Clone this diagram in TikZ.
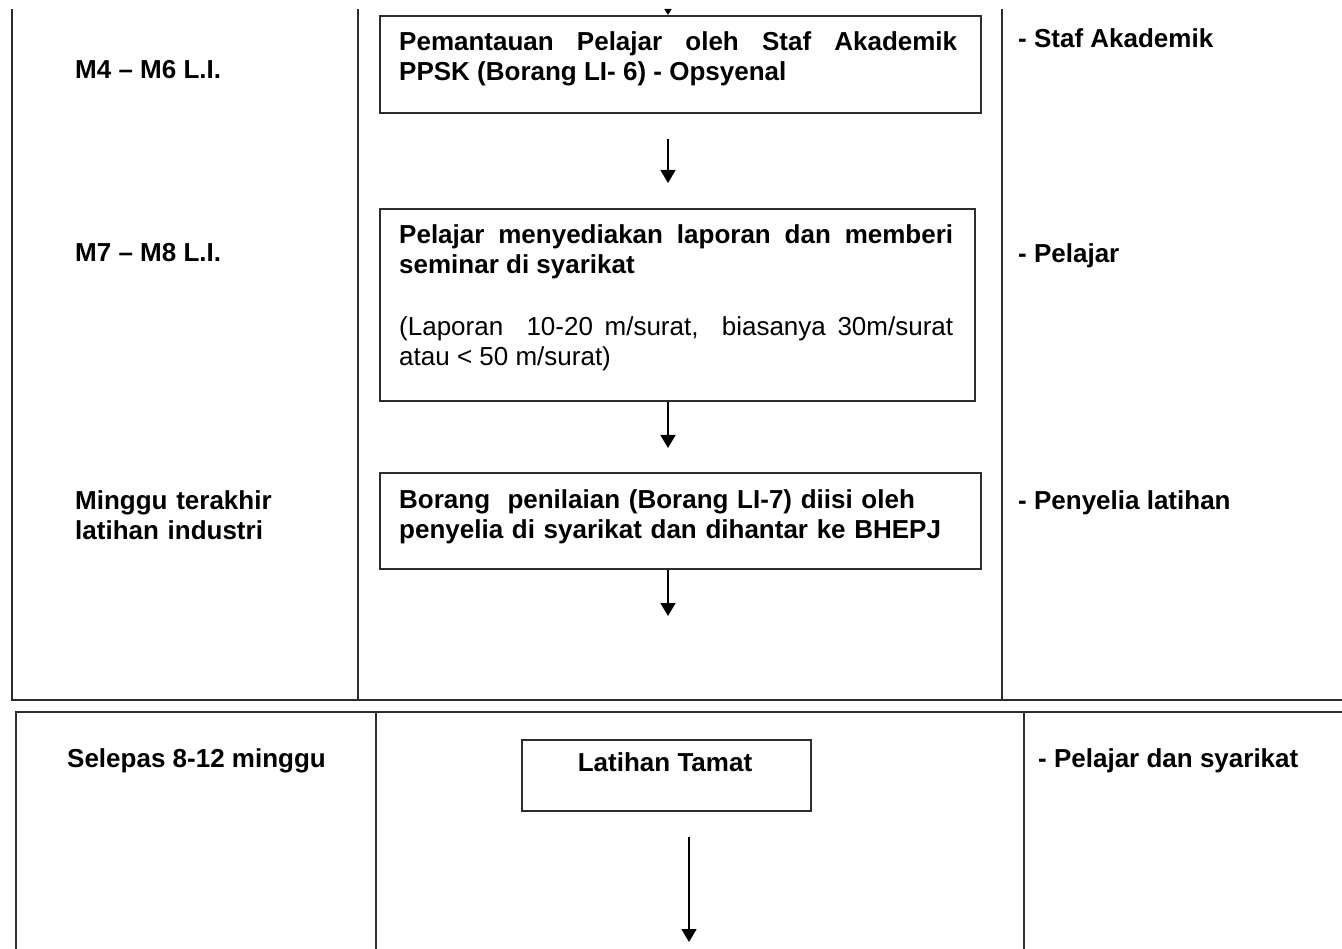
\documentclass[tikz,border=0pt]{standalone}
\usepackage{fontspec}
\setmainfont{Liberation Sans}
\usetikzlibrary{arrows.meta}
\definecolor{rulegray}{RGB}{45,45,45}

\begin{document}
\begin{tikzpicture}[x=1pt, y=-1pt,
    box/.style={draw=rulegray, line width=1.6pt, anchor=north west, inner sep=0pt},
    txt/.style={anchor=base west, inner sep=0pt, font=\fontsize{26}{30}\selectfont\bfseries},
    para/.style={txt, text width=#1, align=justify},
    lines/.style={txt, text width=#1, align=left},
    arr/.style={-{Triangle[width=15pt,length=13pt]}, line width=1.6pt},
    tablerule/.style={draw=rulegray, line width=1.8pt}]
\clip (0,0) rectangle (1342,949);
\fill[white] (0,0) rectangle (1342,949);

% Upper table
\draw[tablerule] (12,9) -- (12,700) -- (1342,700);
\draw[tablerule] (358,9) -- (358,700);
\draw[tablerule] (1002,9) -- (1002,700);

% Lower table
\draw[tablerule] (16,949) -- (16,712) -- (1342,712);
\draw[tablerule] (376,712) -- (376,949);
\draw[tablerule] (1024,712) -- (1024,949);

% Time column
\node[txt] (w1) at (75,79) {M4 -- M6 L.I.};
\node[txt] (w2) at (75,262) {M7 -- M8 L.I.};
\node[lines=260pt] (w3) at (75,509) {Minggu terakhir\\latihan industri};
\node[txt] (w4) at (67,767) {Selepas 8-12 minggu};

% Flow boxes
\node[box, minimum width=601pt, minimum height=97pt] (b1) at (379,15) {};
\node[box, minimum width=595pt, minimum height=192pt] (b2) at (379,208) {};
\node[box, minimum width=601pt, minimum height=96pt] (b3) at (379,472) {};
\node[box, minimum width=289pt, minimum height=71pt] (b4) at (521,739) {};

\node[para=558pt] (t1) at (399,51) {Pemantauan Pelajar oleh Staf Akademik\linebreak PPSK (Borang LI- 6) - Opsyenal};
\node[para=554pt] (t2) at (399,244) {Pelajar menyediakan laporan dan memberi\linebreak seminar di syarikat\par\vspace{32pt}
    \mdseries (Laporan\ \ 10-20 m/surat,\ \ biasanya 30m/surat\linebreak atau < 50 m/surat)};
\node[lines=570pt] (t3) at (399,508) {Borang\ \ penilaian (Borang LI-7) diisi oleh\\penyelia di syarikat dan dihantar ke BHEPJ};
\node[txt, anchor=base] (t4) at (665,771) {Latihan Tamat};

% Person in charge column
\node[txt] (p1) at (1018,48) {- Staf Akademik};
\node[txt] (p2) at (1018,263) {- Pelajar};
\node[txt] (p3) at (1018,509) {- Penyelia latihan};
\node[txt] (p4) at (1038,767) {- Pelajar dan syarikat};

% Arrows
\coordinate (ax) at (668,0);
\coordinate (bx) at (689,0);
\coordinate (top) at (668,9);
\coordinate (end1) at (668,616);
\coordinate (end2) at (689,942);
\draw[-{Triangle[width=7pt,length=6pt]}, line width=1.6pt] (top) -- (b1.north -| ax);
\draw[arr, shorten <=25pt, shorten >=25pt] (b1.south -| ax) -- (b2.north -| ax);
\draw[arr, shorten >=24pt] (b2.south -| ax) -- (b3.north -| ax);
\draw[arr] (b3.south -| ax) -- (end1);
\draw[arr, shorten <=25pt] (b4.south -| bx) -- (end2);
\end{tikzpicture}
\end{document}
